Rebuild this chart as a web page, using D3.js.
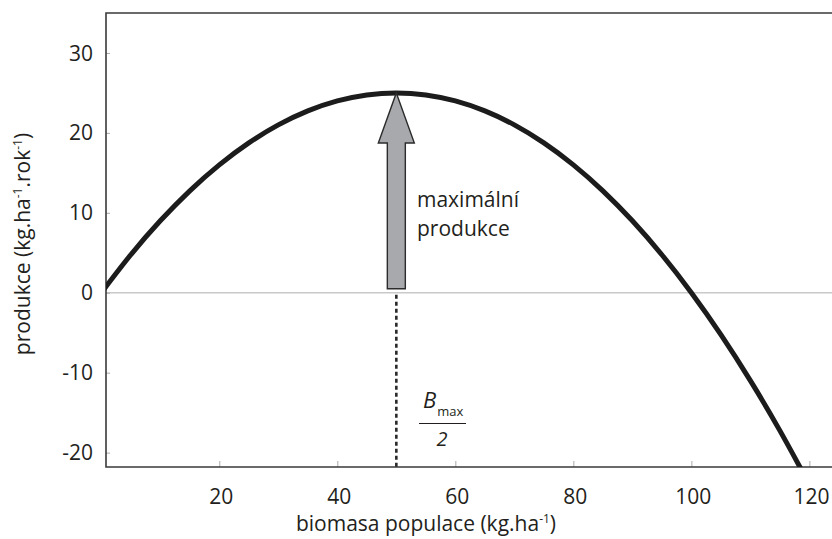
<!DOCTYPE html>
<html>
<head>
<meta charset="utf-8">
<script src="https://cdn.jsdelivr.net/npm/d3@7"></script>
<style>
  body { margin: 0; background: #fff; }
  svg { display: block; font-family: "Open Sans", "Noto Sans", sans-serif; }
</style>
</head>
<body>
<svg id="chart" width="832" height="539"></svg>
<script>
// Biomass of the population (kg/ha) and the corresponding yearly production
const biomass    = [0, 5, 10, 15, 20, 25, 30, 35, 40, 45, 50, 55, 60, 65, 70, 75, 80, 85, 90, 95, 100, 105, 110, 115, 120];
const production = [0, 4.75, 9, 12.75, 16, 18.75, 21, 22.75, 24, 24.75, 25, 24.75, 24, 22.75, 21, 18.75, 16, 12.75, 9, 4.75, 0, -5.25, -11, -17.25, -24];
const xTicks = [20, 40, 60, 80, 100, 120];
const yTicks = [-20, -10, 0, 10, 20, 30];
const bHalf = 50;       // B_max / 2
const maxProd = 25;     // production at B_max / 2

const svg = d3.select("#chart");
const pLeft = 106, pTop = 13, pRight = 833, pBottom = 467;

const x = d3.scaleLinear().domain([0.8, 124.0]).range([pLeft, pRight]);
const y = d3.scaleLinear().domain([-21.8, 35.0]).range([pBottom, pTop]);

svg.append("clipPath").attr("id", "plot")
  .append("rect").attr("x", pLeft).attr("y", pTop)
  .attr("width", pRight - pLeft).attr("height", pBottom - pTop);

// zero line
svg.append("line")
  .attr("x1", pLeft).attr("x2", pRight)
  .attr("y1", y(0)).attr("y2", y(0))
  .attr("stroke", "#c9c9c9").attr("stroke-width", 1.6);

// axes with short inward ticks
const yAxis = svg.append("g").attr("transform", `translate(${pLeft},0)`)
  .call(d3.axisRight(y).tickValues(yTicks).tickSize(4).tickFormat(""));
yAxis.select(".domain").remove();
yAxis.selectAll(".tick line").attr("stroke", "#aaa").attr("stroke-width", 1);

const xAxis = svg.append("g").attr("transform", `translate(0,${pBottom})`)
  .call(d3.axisTop(x).tickValues(xTicks).tickSize(6).tickFormat(""));
xAxis.select(".domain").remove();
xAxis.selectAll(".tick line").attr("stroke", "#aaa").attr("stroke-width", 1);

// tick labels
svg.append("g").selectAll("text").data(yTicks).join("text")
  .attr("x", 93).attr("y", d => y(d)).attr("dy", "0.36em")
  .attr("text-anchor", "end").attr("font-size", 21).attr("fill", "#231f20")
  .text(d => d);
svg.append("g").selectAll("text").data(xTicks).join("text")
  .attr("x", d => x(d) + 2).attr("y", 504)
  .attr("text-anchor", "middle").attr("font-size", 21).attr("fill", "#231f20")
  .text(d => d);

// frame: left, top and bottom borders
svg.append("path")
  .attr("d", `M${pRight},${pTop}H${pLeft}V${pBottom}H${pRight}`)
  .attr("fill", "none").attr("stroke", "#3a3a3a").attr("stroke-width", 1.6);

// production curve
const line = d3.line().x((d, i) => x(biomass[i])).y(d => y(d)).curve(d3.curveNatural);
svg.append("path")
  .attr("clip-path", "url(#plot)")
  .attr("d", line(production))
  .attr("fill", "none").attr("stroke", "#1c1c1c").attr("stroke-width", 5);

// dashed guide at B_max/2
svg.append("line")
  .attr("x1", x(bHalf)).attr("x2", x(bHalf))
  .attr("y1", y(0) + 2).attr("y2", pBottom)
  .attr("stroke", "#2a2a2a").attr("stroke-width", 2.6)
  .attr("stroke-dasharray", "4,3");

// arrow showing the maximum production
const ax = x(bHalf);
const shaftW = 9, headW = 18, headH = 50;
const tipY = y(maxProd), baseY = y(0) - 4;
svg.append("path")
  .attr("d", `M${ax},${tipY}L${ax + headW},${tipY + headH}H${ax + shaftW}V${baseY}H${ax - shaftW}V${tipY + headH}H${ax - headW}Z`)
  .attr("fill", "#a7a9ac").attr("stroke", "#2b2b2b").attr("stroke-width", 1.4)
  .attr("stroke-linejoin", "miter");

svg.append("text").attr("x", 417).attr("y", 207)
  .attr("font-size", 21).attr("fill", "#231f20").text("maximální");
svg.append("text").attr("x", 417).attr("y", 236)
  .attr("font-size", 21).attr("fill", "#231f20").text("produkce");

// B_max / 2 fraction label
const frac = svg.append("g");
const bText = frac.append("text").attr("x", 423).attr("y", 408)
  .attr("font-size", 22).attr("font-style", "italic").attr("fill", "#231f20");
bText.append("tspan").text("B");
bText.append("tspan").attr("font-size", 13).attr("font-style", "normal").attr("dx", 1).attr("dy", 8).text("max");
frac.append("line").attr("x1", 419).attr("x2", 466).attr("y1", 423.5).attr("y2", 423.5)
  .attr("stroke", "#231f20").attr("stroke-width", 1.2);
frac.append("text").attr("x", 442).attr("y", 446).attr("text-anchor", "middle")
  .attr("font-size", 20).attr("font-style", "italic").attr("fill", "#231f20").text("2");

// axis titles
const xt = svg.append("text").attr("x", 426).attr("y", 531)
  .attr("text-anchor", "middle").attr("font-size", 21).attr("fill", "#231f20");
xt.append("tspan").text("biomasa populace (kg.ha");
xt.append("tspan").attr("font-size", 12).attr("dy", -8).text("-1");
xt.append("tspan").attr("dy", 8).text(")");

const yt = svg.append("text")
  .attr("transform", `translate(30,244) rotate(-90)`)
  .attr("text-anchor", "middle").attr("font-size", 21).attr("fill", "#231f20");
yt.append("tspan").text("produkce (kg.ha");
yt.append("tspan").attr("font-size", 12).attr("dy", -8).text("-1");
yt.append("tspan").attr("dy", 8).text(".rok");
yt.append("tspan").attr("font-size", 12).attr("dy", -8).text("-1");
yt.append("tspan").attr("dy", 8).text(")");
</script>
</body>
</html>
